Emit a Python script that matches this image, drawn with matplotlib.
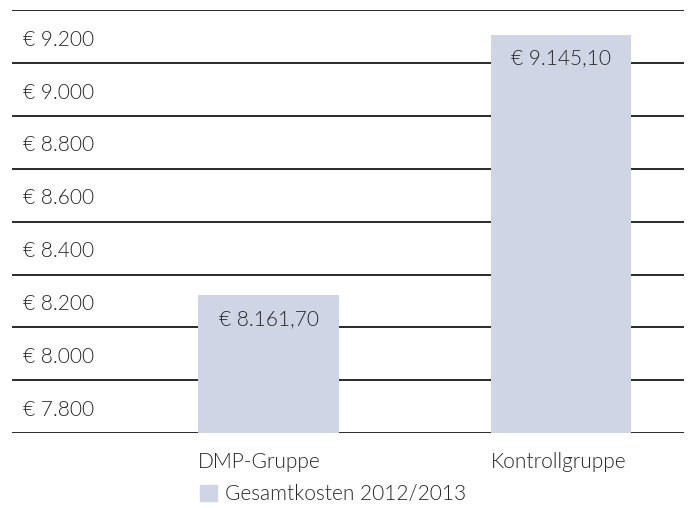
import numpy as np
import matplotlib
matplotlib.use("Agg")
import matplotlib.pyplot as plt
from matplotlib.patches import Patch

# Data
categories = ["DMP-Gruppe", "Kontrollgruppe"]
costs = [8161.70, 9145.10]
series_name = "Gesamtkosten 2012/2013"
tick_values = [7800, 8000, 8200, 8400, 8600, 8800, 9000, 9200]

bar_color = "#CFD5E5"
text_color = "#262626"
fsize = 15
fweight = 300


def euro(v, decimals=0):
    s = f"{v:,.{decimals}f}"
    s = s.replace(",", "X").replace(".", ",").replace("X", ".")
    return "€ " + s


plt.rcParams["font.family"] = ["Lato", "DejaVu Sans"]

fig = plt.figure(figsize=(6.88, 5.08), dpi=100)
ax = fig.add_axes([12 / 688, 1 - 433.3 / 508, 672 / 688, 423.3 / 508])

x = np.arange(len(categories))
width = 0.482
ax.bar(x, costs, width=width, color=bar_color, zorder=3, label=series_name)

# axis range: gridlines every 200, labels sit between lines
ymin, ymax = 7640, 9240
ax.set_ylim(ymin, ymax)
ax.set_xlim(-0.877, 1.4205)

for g in np.arange(ymin, ymax + 1, 200):
    ax.axhline(g, color="#1a1a1a", lw=1.3, zorder=1)

for v in tick_values:
    ax.text(11 / 672, v - 72, euro(v), transform=ax.get_yaxis_transform(),
            ha="left", va="center", fontsize=fsize, color=text_color,
            fontweight=fweight)

# value labels inside bars
for xi, c in zip(x, costs):
    ax.annotate(euro(c, 2), (xi, c), xytext=(0, -17), textcoords="offset points",
                ha="center", va="center", fontsize=fsize, color=text_color, zorder=4,
                fontweight=fweight)

# category labels, left aligned with bars
for xi, cat in zip(x, categories):
    ax.text(xi - width / 2, -0.068, cat, transform=ax.get_xaxis_transform(),
            ha="left", va="center", fontsize=fsize, color=text_color,
            fontweight=fweight)

ax.set_xticks([])
ax.set_yticks([])
for s in ax.spines.values():
    s.set_visible(False)

ax.legend(handles=[Patch(color=bar_color)], labels=[series_name],
          loc="center left", bbox_to_anchor=(200 / 688, 1 - 494 / 508),
          bbox_transform=fig.transFigure, frameon=False, borderpad=0,
          borderaxespad=0, handlelength=0.8, handleheight=0.8,
          handletextpad=0.4, prop={"size": fsize, "weight": fweight},
          labelcolor=text_color)

fig.savefig("out.png", dpi=100)
